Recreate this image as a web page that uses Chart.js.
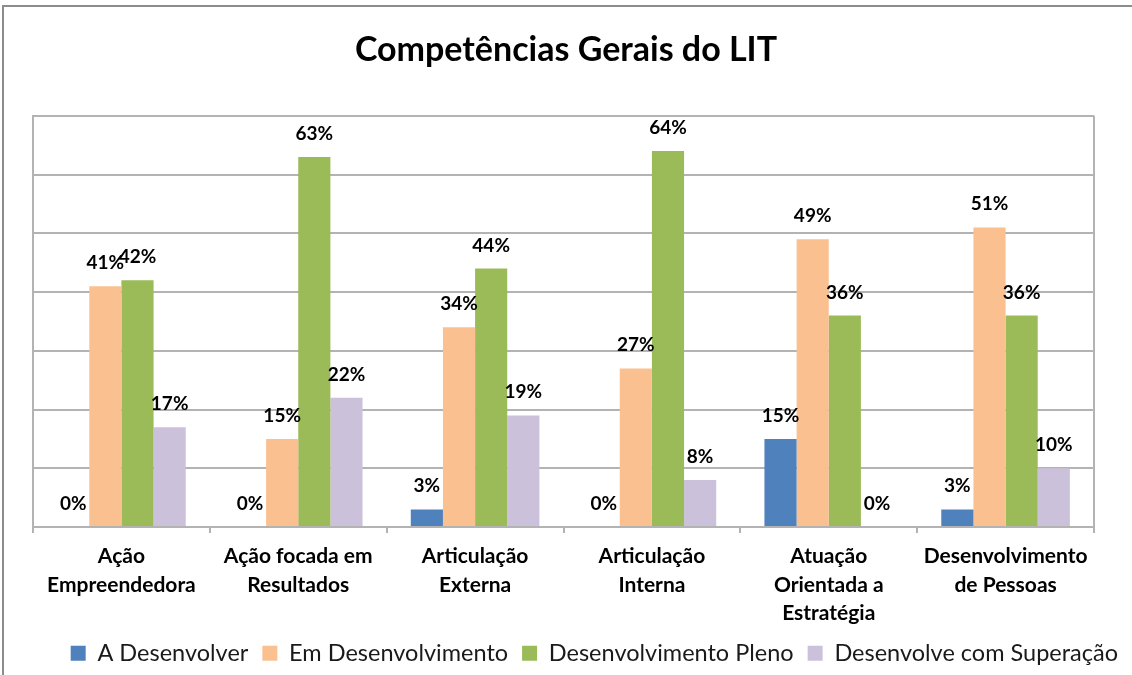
<!DOCTYPE html>
<html>
<head>
<meta charset="utf-8">
<script src="https://cdn.jsdelivr.net/npm/chart.js@4/dist/chart.umd.min.js"></script>
<style>
html,body{margin:0;padding:0;background:#fff;}
#wrap{position:relative;width:1132px;height:675px;}
</style>
</head>
<body>
<div id="wrap"><canvas id="c" width="1132" height="675"></canvas></div>
<script>
const categories = [
  ["Ação", "Empreendedora"],
  ["Ação focada em", "Resultados"],
  ["Articulação", "Externa"],
  ["Articulação", "Interna"],
  ["Atuação", "Orientada a", "Estratégia"],
  ["Desenvolvimento", "de Pessoas"]
];
const seriesNames = ["A Desenvolver", "Em Desenvolvimento", "Desenvolvimento Pleno", "Desenvolve com Superação"];
const aDesenvolver = [0, 0, 3, 0, 15, 3];
const emDesenvolvimento = [41, 15, 34, 27, 49, 51];
const desenvolvimentoPleno = [42, 63, 44, 64, 36, 36];
const desenvolveSuperacao = [17, 22, 19, 8, 0, 10];
const yTicks = [0, 10, 20, 30, 40, 50, 60, 70];

const colors = ["#4F81BD", "#FAC090", "#9BBB59", "#CCC1DA"];
const seriesData = [aDesenvolver, emDesenvolvimento, desenvolvimentoPleno, desenvolveSuperacao];
const FONT = "Lato, 'Open Sans', sans-serif";
const GRID = "#b3b3b3";

const labelPlugin = {
  id: "valueLabels",
  afterDatasetsDraw(chart) {
    const ctx = chart.ctx;
    ctx.save();
    ctx.font = "bold 19px " + FONT;
    ctx.fillStyle = "#000";
    ctx.textAlign = "center";
    ctx.textBaseline = "alphabetic";
    chart.data.datasets.forEach((ds, i) => {
      const meta = chart.getDatasetMeta(i);
      meta.data.forEach((el, j) => {
        ctx.fillText(ds.data[j] + "%", el.x, el.y - 17);
      });
    });
    ctx.restore();
  }
};

const framePlugin = {
  id: "frame",
  beforeDraw(chart) {
    const ctx = chart.ctx;
    ctx.save();
    ctx.strokeStyle = "#8c8c8c";
    ctx.lineWidth = 2;
    ctx.beginPath();
    ctx.moveTo(3, 675); ctx.lineTo(3, 6); ctx.lineTo(1132, 6);
    ctx.stroke();
    ctx.restore();
  },
  afterDraw(chart) {
    const a = chart.chartArea;
    const ctx = chart.ctx;
    ctx.save();
    ctx.strokeStyle = GRID;
    ctx.lineWidth = 2;
    ctx.beginPath();
    ctx.moveTo(a.right, a.top); ctx.lineTo(a.right, a.bottom);
    ctx.stroke();
    ctx.restore();
  }
};

new Chart(document.getElementById("c"), {
  type: "bar",
  data: {
    labels: categories,
    datasets: seriesNames.map((n, i) => ({
      label: n,
      data: seriesData[i],
      backgroundColor: colors[i],
      borderWidth: 0,
      categoryPercentage: 4 / 5.5,
      barPercentage: 1.0
    }))
  },
  options: {
    responsive: false,
    animation: false,
    devicePixelRatio: 1,
    layout: { padding: { left: 0, right: 0, top: 0, bottom: 0 } },
    plugins: {
      title: {
        display: true,
        text: "Competências Gerais do LIT",
        color: "#000",
        font: { family: FONT, size: 34, weight: "bold", lineHeight: 1.2 },
        padding: { top: 30, bottom: 45 }
      },
      legend: {
        position: "bottom",
        align: "end",
        labels: {
          boxWidth: 15, boxHeight: 15, padding: 14,
          color: "#1a1a1a",
          font: { family: FONT, size: 23.5 }
        }
      },
      tooltip: { enabled: false }
    },
    scales: {
      x: {
        grid: { offset: true, drawOnChartArea: false, drawTicks: true, tickLength: 6, color: GRID, lineWidth: 2 },
        border: { display: true, color: GRID, width: 2 },
        ticks: { color: "#000", font: { family: FONT, size: 21, weight: "bold", lineHeight: 1.36 }, padding: 9, maxRotation: 0, autoSkip: false },
        afterFit(s) {
          const lh = s.chart.legend && s.chart.legend.height ? s.chart.legend.height : 50;
          s.height = 675 - 527 - lh;
        }
      },
      y: {
        min: 0, max: 70,
        afterBuildTicks(s) { s.ticks = yTicks.map(v => ({ value: v })); },
        grid: { color: GRID, lineWidth: 2, drawTicks: false },
        border: { display: true, color: GRID, width: 2 },
        ticks: { display: false },
        afterFit(s) { s.width = 33; }
      },
      yRight: {
        position: "right",
        min: 0, max: 70,
        grid: { display: false, drawTicks: false },
        border: { display: false },
        ticks: { display: false },
        afterFit(s) { s.width = 38; }
      }
    }
  },
  plugins: [labelPlugin, framePlugin]
});
</script>
</body>
</html>
